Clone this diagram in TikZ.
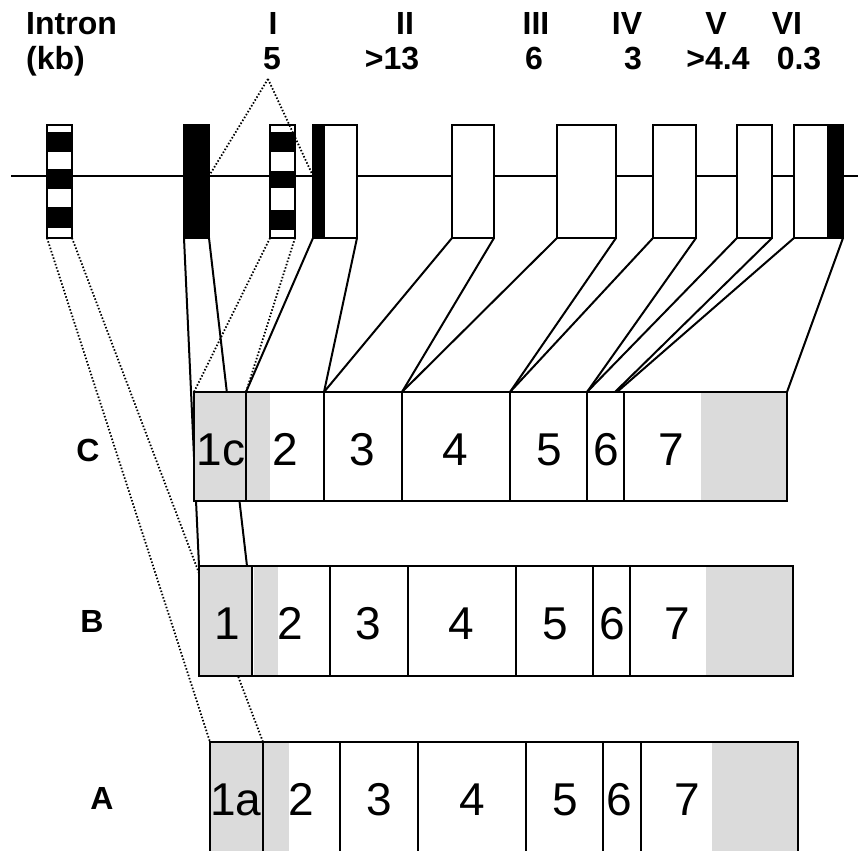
\documentclass[tikz,border=0pt]{standalone}
\usepackage{fontspec}
\setmainfont{Liberation Sans}
\usetikzlibrary{calc}
\pgfdeclarelayer{bg}
\pgfsetlayers{bg,main}
\definecolor{cellgrey}{gray}{0.86}
\tikzset{
  bx/.style={draw=black, line width=2pt, rectangle, inner sep=0pt, outer sep=0pt},
  conn/.style={line width=2pt},
  dots/.style={line width=1.8pt, dash pattern=on 1.5pt off 1.9pt},
  hdr/.style={font=\fontsize{32}{36}\selectfont\bfseries, inner sep=0pt, anchor=base},
  num/.style={font=\fontsize{46}{50}\selectfont, inner sep=0pt, anchor=base},
}
\newcommand\mkbox[5]{\node[bx,minimum width={(#3-#2)*1pt},minimum height={(#5-#4)*1pt}] (#1) at ({(#2+#3)/2},{(#4+#5)/2}) {};}
\begin{document}
\begin{tikzpicture}[x=1pt,y=-1pt]
\useasboundingbox (0,0) rectangle (858,850);
\clip (0,0) rectangle (858,850);
% header
\node[hdr,anchor=base west] (tIntron) at (26,35) {Intron};
\node[hdr,anchor=base west] (tkb) at (26,70) {(kb)};
\node[hdr] (tI) at (273,35) {I};
\node[hdr] (v1) at (272,70) {5};
\node[hdr] (tII) at (405,35) {II};
\node[hdr] (v2) at (392,70) {>13};
\node[hdr] (tIII) at (536,35) {III};
\node[hdr] (v3) at (534,70) {6};
\node[hdr] (tIV) at (627,35) {IV};
\node[hdr] (v4) at (633,70) {3};
\node[hdr] (tV) at (716,35) {V};
\node[hdr] (v5) at (718,70) {>4.4};
\node[hdr] (tVI) at (787,35) {VI};
\node[hdr] (v6) at (799,70) {0.3};
% genomic exons: fills
\coordinate (gl0) at (11,176);
\coordinate (gl1) at (858,176);
\foreach \a/\b in {47/72,184/209,270/295,313/357,452/494,557/616,653/696,737/772,794/843}
  \fill[white] (\a,125) rectangle (\b,238);
\fill[black] (184,125) rectangle (209,238);
\foreach \a/\b in {132/152,169/189,207/228} \fill[black] (47,\a) rectangle (72,\b);
\foreach \a/\b in {132/152,171/188,210/230} \fill[black] (270,\a) rectangle (295,\b);
\fill[black] (313,125) rectangle (325,238);
\fill[black] (827,125) rectangle (843,238);
\mkbox{g1a}{47}{72}{125}{238}
\mkbox{g1}{184}{209}{125}{238}
\mkbox{g1c}{270}{295}{125}{238}
\mkbox{g2}{313}{357}{125}{238}
\mkbox{g3}{452}{494}{125}{238}
\mkbox{g4}{557}{616}{125}{238}
\mkbox{g5}{653}{696}{125}{238}
\mkbox{g6}{737}{772}{125}{238}
\mkbox{g7}{794}{843}{125}{238}
% row C
\fill[white] (194,392) rectangle (787,501);
\fill[cellgrey] (194,392) rectangle (270,501);
\fill[cellgrey] (701,392) rectangle (787,501);
\mkbox{c1}{194}{246}{392}{501}
\mkbox{c2}{246}{324}{392}{501}
\mkbox{c3}{324}{402}{392}{501}
\mkbox{c4}{402}{510}{392}{501}
\mkbox{c5}{510}{587}{392}{501}
\mkbox{c6}{587}{624}{392}{501}
\mkbox{c7}{624}{787}{392}{501}
% row B
\fill[white] (199,566) rectangle (793,676);
\fill[cellgrey] (199,566) rectangle (252,676);
\fill[cellgrey] (254,566) rectangle (278,676);
\fill[cellgrey] (706,566) rectangle (793,676);
\mkbox{b1}{199}{252}{566}{676}
\mkbox{b2}{252}{330}{566}{676}
\mkbox{b3}{330}{408}{566}{676}
\mkbox{b4}{408}{516}{566}{676}
\mkbox{b5}{516}{593}{566}{676}
\mkbox{b6}{593}{630}{566}{676}
\mkbox{b7}{630}{793}{566}{676}
% row A
\fill[white] (210,742) rectangle (798,870);
\fill[cellgrey] (210,742) rectangle (289,870);
\fill[cellgrey] (712,742) rectangle (798,870);
\mkbox{a1}{210}{263}{742}{870}
\mkbox{a2}{263}{340}{742}{870}
\mkbox{a3}{340}{418}{742}{870}
\mkbox{a4}{418}{526}{742}{870}
\mkbox{a5}{526}{603}{742}{870}
\mkbox{a6}{603}{641}{742}{870}
\mkbox{a7}{641}{798}{742}{870}
% labels
\node[hdr] (lC) at (88,461) {C};
\node[hdr] (lB) at (92,632) {B};
\node[hdr] (lA) at (102,809) {A};
\node[num] (nc1) at (221,465) {1c};
\node[num] (nc2) at (285,465) {2};
\node[num] (nc3) at (362,465) {3};
\node[num] (nc4) at (455,465) {4};
\node[num] (nc5) at (549,465) {5};
\node[num] (nc6) at (606,465) {6};
\node[num] (nc7) at (671,465) {7};
\node[num] (nb1) at (227,639) {1};
\node[num] (nb2) at (290,639) {2};
\node[num] (nb3) at (368,639) {3};
\node[num] (nb4) at (461,639) {4};
\node[num] (nb5) at (555,639) {5};
\node[num] (nb6) at (612,639) {6};
\node[num] (nb7) at (677,639) {7};
\node[num] (na1) at (236,815) {1a};
\node[num] (na2) at (301,815) {2};
\node[num] (na3) at (379,815) {3};
\node[num] (na4) at (472,815) {4};
\node[num] (na5) at (565,815) {5};
\node[num] (na6) at (619,815) {6};
\node[num] (na7) at (687,815) {7};
% connectors behind
\begin{pgfonlayer}{bg}
\draw[conn] (gl0) -- (gl1);
\draw[conn] (g1.south west) -- (b1.north west);
\draw[conn] (g1.south east) -- ($(b1.north east)+(-5,0)$);
\draw[conn] (g2.south west) -- (c2.north west);
\draw[conn] (g2.south east) -- (c3.north west);
\draw[conn] (g3.south west) -- (c3.north west);
\draw[conn] (g3.south east) -- (c4.north west);
\draw[conn] (g4.south west) -- (c4.north west);
\draw[conn] (g4.south east) -- (c5.north west);
\draw[conn] (g5.south west) -- (c5.north west);
\draw[conn] (g5.south east) -- (c6.north west);
\draw[conn] (g6.south west) -- (c6.north west);
\draw[conn] (g6.south east) -- ($(c6.north west)+(28,0)$);
\draw[conn] (g7.south west) -- ($(c6.north west)+(30,0)$);
\draw[conn] (g7.south east) -- (c7.north east);
\draw[dots] (g1c.south west) -- (c1.north west);
\draw[dots] (g1c.south east) -- (c1.north east);
\draw[dots] (g1a.south west) -- (a1.north west);
\draw[dots] (g1a.south east) -- (a1.north east);
\end{pgfonlayer}
% top dotted lines
\coordinate (apex) at (268,79);
\draw[dots] (apex) -- (g1.east |- gl0);
\draw[dots] (apex) -- (g2.west |- gl0);
\end{tikzpicture}
\end{document}
